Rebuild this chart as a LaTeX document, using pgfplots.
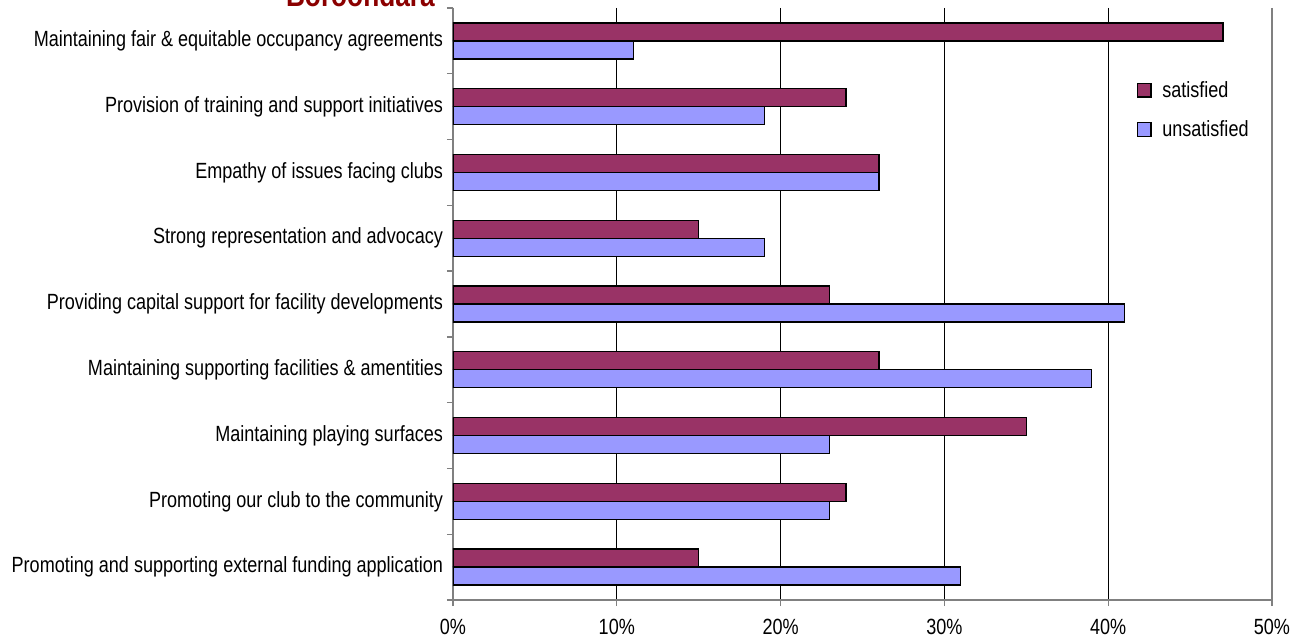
\documentclass[border=0pt]{standalone}
\usepackage{pgfplots}
\pgfplotsset{compat=1.18}
\usepackage{fontspec}
\setmainfont{Liberation Sans}[FakeStretch=0.82]

\definecolor{satcol}{HTML}{993366}
\definecolor{unsatcol}{HTML}{9999FF}
\definecolor{titlered}{HTML}{8B0000}
\definecolor{axisgray}{HTML}{808080}

% share of clubs satisfied / unsatisfied with each council service (%)
\pgfplotstableread{
idx sat unsat
0   47  11
1   24  19
2   26  26
3   15  19
4   23  41
5   26  39
6   35  23
7   24  23
8   15  31
}\ratings

\newcommand{\lblfont}{\fontsize{16.5pt}{19pt}\selectfont}

\begin{document}
\begin{tikzpicture}
\begin{axis}[
  at={(0pt,0pt)}, anchor=south west,
  scale only axis, width=614.25pt, height=444pt,
  xbar, bar width=13.5pt,
  xmin=0, xmax=50,
  xtick={0,10,...,40},
  xticklabel={\pgfmathprintnumber{\tick}\%},
  extra x ticks={50}, extra x tick labels={50\%},
  extra x tick style={major grid style={axisgray, line width=1pt}},
  /pgf/number format/assume math mode=true,
  ymin=-0.5, ymax=8.5, y dir=reverse,
  ytick={-0.5,0.5,...,8.5}, yticklabels={},
  extra y ticks={0,1,...,8},
  extra y tick style={major tick length=0pt, grid=none},
  extra y tick labels={
    {Maintaining fair \& equitable occupancy agreements},
    {Provision of training and support initiatives},
    {Empathy of issues facing clubs},
    {Strong representation and advocacy},
    {Providing capital support for facility developments},
    {Maintaining supporting facilities \& amentities },
    {Maintaining playing surfaces},
    {Promoting our club to the community},
    {Promoting and supporting external funding application}},
  axis x line*=bottom, axis y line*=left,
  axis line style={axisgray, line width=1pt},
  tick align=outside, major tick length=4.5pt,
  tick style={axisgray, line width=1pt},
  xmajorgrids, major grid style={black, line width=0.6pt},
  ticklabel style={font=\lblfont, text=black},
  yticklabel style={xshift=-4pt},
  xticklabel style={yshift=-6pt},
  legend style={at={(rel axis cs:0.835,0.881)}, anchor=north west,
    draw=none, fill=none, font=\lblfont, row sep=12pt, inner sep=0pt},
  legend cell align=left,
  legend image code/.code={
    \draw[#1, line width=0.8pt] (0pt,-5pt) rectangle (10pt,5pt);
    \path (16pt,0pt);},
]
\addplot[fill=satcol, draw=black, line width=1pt, bar shift=6.75pt]
  table[x=sat, y=idx] {\ratings};
\addplot[fill=unsatcol, draw=black, line width=1pt, bar shift=-6.75pt]
  table[x=unsat, y=idx] {\ratings};
\legend{satisfied, unsatisfied}
\end{axis}
\node[anchor=base east, inner sep=0pt, text=titlered,
      font=\bfseries\fontsize{24pt}{28pt}\selectfont] at (-13.5pt,445pt) {Boroondara};
\pgfresetboundingbox
\useasboundingbox (-339.75pt,-30.75pt) rectangle (640.5pt,450pt);
\end{tikzpicture}
\end{document}
